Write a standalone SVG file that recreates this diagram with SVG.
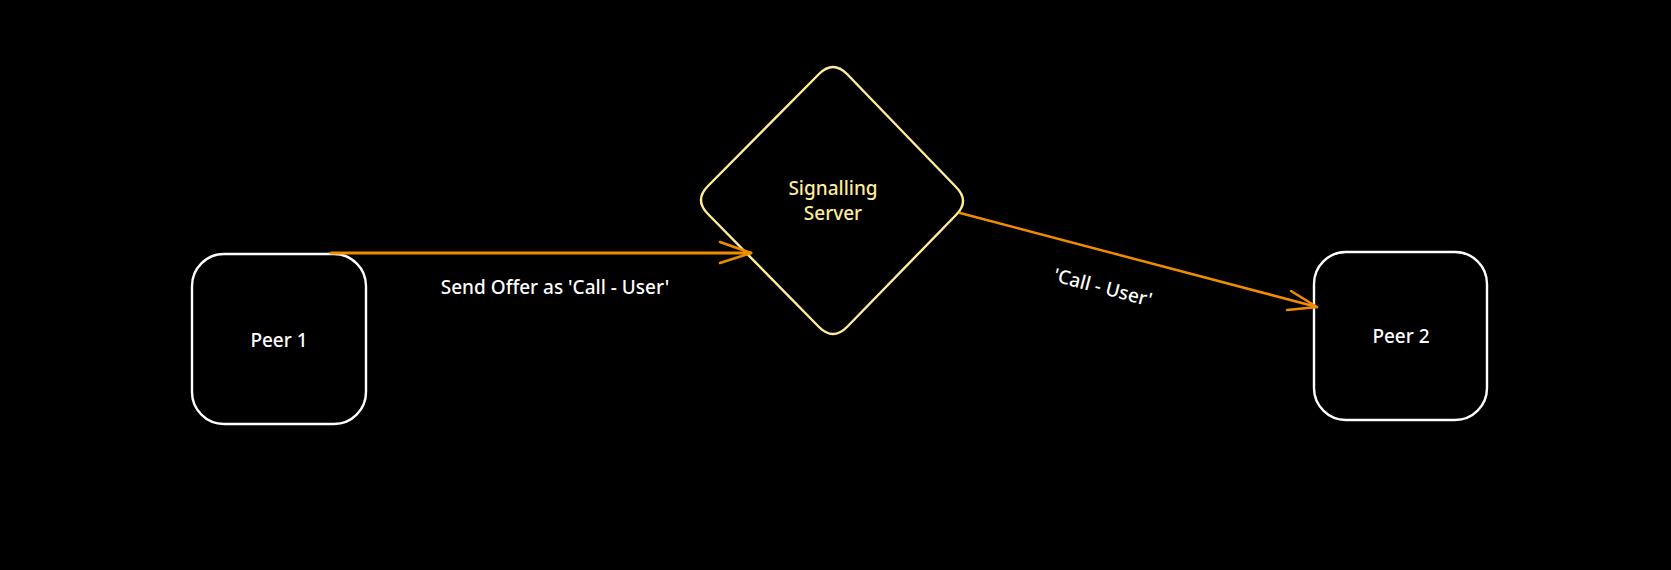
<svg xmlns="http://www.w3.org/2000/svg" width="1671" height="570" viewBox="0 0 1671 570">
  <defs>
    <style>
      .box { fill: #000; stroke: #ffffff; stroke-width: 2.4; }
      .dia { fill: #000; stroke: #ffec99; stroke-width: 2.4; }
      .lbl { font-family: "Noto Sans", "Open Sans", sans-serif; font-size: 19px; font-weight: 500; fill: #ffffff; text-anchor: middle; dominant-baseline: central; }
      .dlbl { fill: #ffec99; }
      .conn { fill: none; stroke: #f08c00; stroke-linecap: round; stroke-linejoin: round; }
    </style>
  </defs>
  <rect x="0" y="0" width="1671" height="570" fill="#000"/>

  <g id="peer1">
    <rect class="box" x="192" y="254" width="174" height="170" rx="32" ry="32"/>
    <text class="lbl" x="279" y="340">Peer 1</text>
  </g>

  <g id="signalling-server">
    <path class="dia" d="M 847 74 L 956 187 Q 970 201 956 215 L 847 327 Q 833 341 819 327 L 708 214 Q 694 200 708 186 L 819 74 Q 833 60 847 74 Z"/>
    <text class="lbl dlbl" x="833" y="188">Signalling</text>
    <text class="lbl dlbl" x="833" y="213">Server</text>
  </g>

  <g id="peer2">
    <rect class="box" x="1314" y="252" width="173" height="168" rx="32" ry="32"/>
    <text class="lbl" x="1401" y="336">Peer 2</text>
  </g>

  <g id="connectors">
    <g id="edge-peer1-server">
      <path class="conn" stroke-width="3" d="M 331 253 L 751 253"/>
      <path class="conn" stroke-width="2.5" d="M 720 242 L 751 253 L 720 263"/>
      <text class="lbl" x="555" y="287">Send Offer as 'Call - User'</text>
    </g>
    <g id="edge-server-peer2">
      <path class="conn" stroke-width="2.5" d="M 960 213 L 1317 307"/>
      <path class="conn" stroke-width="2.5" d="M 1291 291 L 1317 307 L 1287 310"/>
      <text class="lbl" x="1103" y="287" transform="rotate(14.7 1103 287)">'Call - User'</text>
    </g>
  </g>
</svg>
